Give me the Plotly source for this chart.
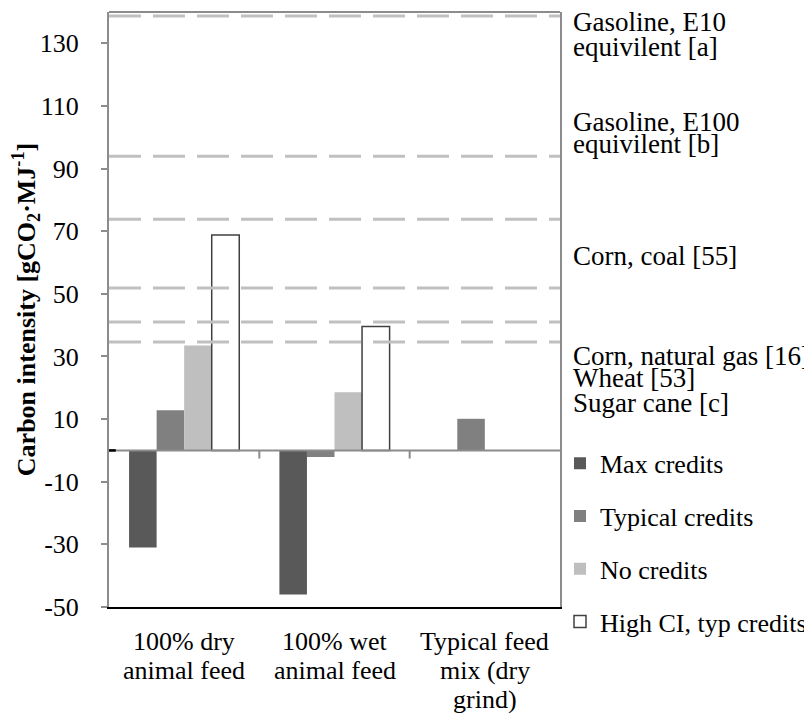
import plotly.graph_objects as go

# ---- data ----
categories = ["100% dry<br>animal feed", "100% wet<br>animal feed", "Typical feed<br>mix (dry<br>grind)"]
series_names = ["Max credits", "Typical credits", "No credits", "High CI, typ credits"]
max_credits = [-31.0, -46.0, None]
typical_credits = [12.8, -2.1, 10.1]
no_credits = [33.5, 18.6, None]
high_ci_typ = [68.8, 39.6, None]

ref_values = [138.7, 93.9, 73.8, 51.9, 41.0, 34.6]
ref_labels = ["Gasoline, E10", "equivilent [a]", "Gasoline, E100", "equivilent [b]",
              "Corn, coal [55]", "Corn, natural gas [16]", "Wheat [53]", "Sugar cane [c]"]
ref_label_y = [136.7, 128.9, 105.0, 98.0, 62.2, 30.3, 23.0, 15.0]

y_tick_vals = [-50, -30, -10, 10, 30, 50, 70, 90, 110, 130]
y_tick_text = ["-50", "-30", "-10", "10", "30", "50", "70", "90", "110", "130"]

FONT = "Liberation Serif"
fill_colors = ["#595959", "#808080", "#bfbfbf", "#ffffff"]
line_colors = [None, None, None, "#404040"]
all_series = [max_credits, typical_credits, no_credits, high_ci_typ]

fig = go.Figure()
for name, vals, fc, lc in zip(series_names, all_series, fill_colors, line_colors):
    fig.add_trace(go.Bar(
        name=name, x=categories, y=vals,
        marker=dict(color=fc, line=dict(color=lc if lc else fc, width=1.5 if lc else 0)),
        legendgroup=name,
    ))

shapes = []
for v in ref_values:
    shapes.append(dict(type="line", xref="paper", yref="y", x0=0, x1=1, y0=v, y1=v,
                       line=dict(color="#c0c0c0", width=3, dash="32px,12px"), layer="above"))
# zero (category) axis line
shapes.append(dict(type="line", xref="paper", yref="y", x0=0, x1=1, y0=0, y1=0,
                   line=dict(color="#8c8c8c", width=2), layer="above"))
# tick marks between categories on the zero line
for b in [0.5, 1.5]:
    shapes.append(dict(type="line", xref="x", yref="y", x0=b, x1=b, y0=0, y1=-2.6,
                       line=dict(color="#8c8c8c", width=2), layer="above"))
# short black stub at zero
shapes.append(dict(type="line", xref="paper", yref="y", x0=0, x1=0.015, y0=0, y1=0,
                   line=dict(color="#000000", width=2.5), layer="above"))
# top border
shapes.append(dict(type="line", xref="paper", yref="paper", x0=0, x1=1, y0=1, y1=1,
                   line=dict(color="#8c8c8c", width=2), layer="above"))

annotations = []
for t, yv in zip(ref_labels, ref_label_y):
    annotations.append(dict(text=t, xref="paper", yref="y", x=1.024, y=yv, xanchor="left",
                            yanchor="middle", showarrow=False,
                            font=dict(family=FONT, size=27, color="#000000")))
# category labels (one annotation per text line, placed on the category axis)
for cat in categories:
    for i, line in enumerate(cat.split("<br>")):
        annotations.append(dict(text=line, xref="x", yref="paper", x=cat, y=0,
                                xanchor="center", yanchor="middle", yshift=-34 - 29 * i,
                                showarrow=False,
                                font=dict(family=FONT, size=26, color="#000000")))

fig.update_layout(
    width=812, height=713,
    margin=dict(l=101, r=260, t=4, b=114, autoexpand=False),
    paper_bgcolor="white", plot_bgcolor="white",
    barmode="group", bargap=0.267, bargroupgap=0,
    font=dict(family=FONT, size=26, color="#000000"),
    showlegend=True,
    legend=dict(x=1.0, y=0.281, xanchor="left", yanchor="top",
                font=dict(family=FONT, size=26, color="#000000"), tracegroupgap=16,
                bgcolor="rgba(0,0,0,0)", itemwidth=30),
    shapes=shapes, annotations=annotations,
)
fig.update_xaxes(showline=True, linecolor="#000000", linewidth=2, mirror=False,
                 ticks="", showgrid=False, showticklabels=False,
                 automargin=False, fixedrange=True)
fig.update_yaxes(range=[-50, 140], tickvals=y_tick_vals, ticktext=y_tick_text,
                 showline=True, linecolor="#8c8c8c",
                 linewidth=2, mirror=True, ticks="outside", ticklen=6, tickcolor="#8c8c8c",
                 tickwidth=2, showgrid=False, zeroline=False, automargin=False,
                 ticklabelstandoff=17,
                 tickfont=dict(family=FONT, size=26, color="#000000"),
                 title=dict(text="<b>Carbon intensity [gCO<sub>2</sub>·MJ<sup>-1</sup>]</b>",
                            font=dict(family=FONT, size=26, color="#000000"), standoff=3))

fig.write_html("out.html")
